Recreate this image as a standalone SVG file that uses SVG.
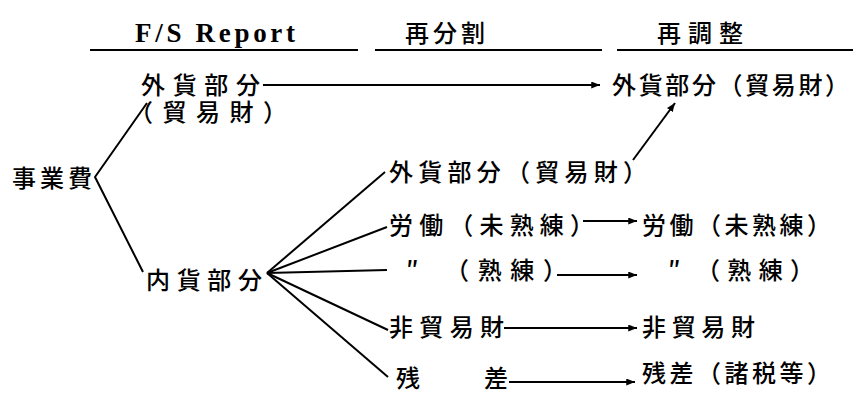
<svg xmlns="http://www.w3.org/2000/svg" width="856" height="394" viewBox="0 0 856 394">
<style>
.t{font-family:"Noto Sans CJK JP","Noto Sans CJK SC",sans-serif;font-size:24px;font-weight:500;fill:#000}
.h{font-family:"Liberation Serif",serif;font-size:27px;font-weight:bold;fill:#000}
.l{stroke:#000;stroke-width:2;fill:none}
.a{stroke:#000;stroke-width:2;fill:none;marker-end:url(#ah)}
</style>
<defs>
<marker id="ah" viewBox="0 0 10 8" refX="10" refY="4" markerWidth="4.5" markerHeight="3.5" orient="auto" markerUnits="strokeWidth">
<path d="M0,0 L10,4 L0,8 Z" fill="#000"/>
</marker>
</defs>
<rect width="856" height="394" fill="#fff"/>
<g id="headers">
<text class="h" x="135" y="42" textLength="160" lengthAdjust="spacing">F/S Report</text>
<text class="t" x="405" y="42" textLength="80">再分割</text>
<text class="t" x="657" y="42" textLength="86">再調整</text>
<line class="l" x1="90" y1="50" x2="358" y2="50"/>
<line class="l" x1="375" y1="50" x2="602" y2="50"/>
<line class="l" x1="617" y1="50" x2="853" y2="50"/>
</g>
<g id="n-jigyohi"><text class="t" x="12" y="187" textLength="80">事業費</text></g>
<g id="n-gaika"><text class="t" x="141" y="94" textLength="119">外貨部分</text>
<text class="t" x="129" y="121" textLength="158">（貿易財）</text></g>
<g id="n-naika"><text class="t" x="146" y="289" textLength="116">内貨部分</text></g>
<g id="n-m-gaika"><text class="t" x="389" y="181" textLength="258">外貨部分（貿易財）</text></g>
<g id="n-m-mijuku"><text class="t" x="389" y="234" textLength="205">労働（未熟練）</text></g>
<g id="n-m-juku"><text class="t" x="406" y="279">″</text><text class="t" x="445" y="279" textLength="122">（熟練）</text></g>
<g id="n-m-hiboeki"><text class="t" x="389" y="336" textLength="115">非貿易財</text></g>
<g id="n-m-zansa"><text class="t" x="396" y="387" textLength="112">残　差</text></g>
<g id="n-r-gaika"><text class="t" x="612" y="94" textLength="237">外貨部分（貿易財）</text></g>
<g id="n-r-mijuku"><text class="t" x="642" y="234" textLength="189">労働（未熟練）</text></g>
<g id="n-r-juku"><text class="t" x="668" y="279">″</text><text class="t" x="696" y="279" textLength="118">（熟練）</text></g>
<g id="n-r-hiboeki"><text class="t" x="642" y="336" textLength="113">非貿易財</text></g>
<g id="n-r-zansa"><text class="t" x="642" y="382" textLength="189">残差（諸税等）</text></g>
<g id="connectors">
<polyline class="l" points="147,103 95,177 143,272"/>
<line class="l" x1="267" y1="273" x2="385" y2="172"/>
<line class="l" x1="267" y1="273" x2="387" y2="227"/>
<line class="l" x1="267" y1="273" x2="387" y2="270"/>
<line class="l" x1="267" y1="273" x2="388" y2="330"/>
<line class="l" x1="267" y1="273" x2="388" y2="377"/>
<line class="a" x1="263" y1="85" x2="600" y2="85"/>
<line class="a" x1="633" y1="160" x2="675" y2="103"/>
<line class="a" x1="583" y1="221" x2="637" y2="221"/>
<line class="a" x1="557" y1="275" x2="637" y2="275"/>
<line class="a" x1="504" y1="328" x2="637" y2="328"/>
<line class="a" x1="509" y1="382" x2="635" y2="382"/>
</g>
</svg>
